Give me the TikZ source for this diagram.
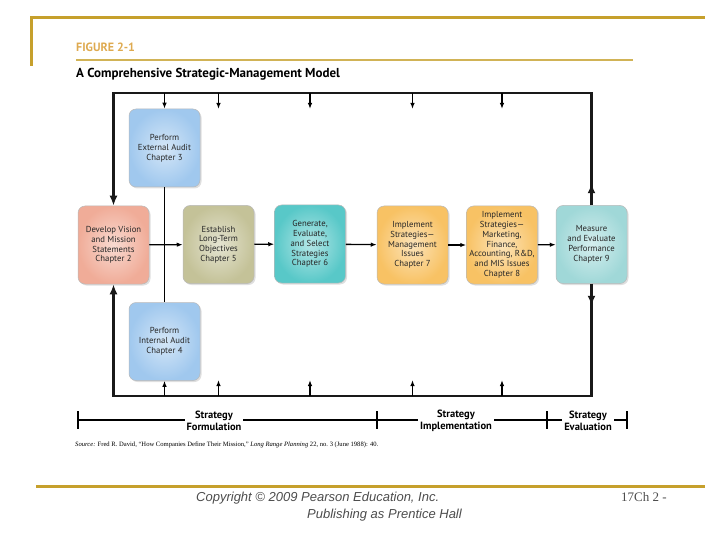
\documentclass[tikz,border=0pt]{standalone}
\usepackage{fontspec}
\setmainfont{Liberation Serif}
\setsansfont{PT Sans}
\newfontfamily\arialfont{Liberation Sans}
\usetikzlibrary{shapes, positioning, arrows.meta, shadows}

\definecolor{gold}{RGB}{198,160,44}
\definecolor{figgold}{RGB}{222,170,80}
\definecolor{auditblue}{RGB}{160,200,238}
\definecolor{visionred}{RGB}{240,172,152}
\definecolor{objkhaki}{RGB}{196,194,152}
\definecolor{stratteal}{RGB}{88,200,200}
\definecolor{implorange}{RGB}{248,194,100}
\definecolor{evalteal}{RGB}{160,216,216}

\tikzset{
  stagebox/.style={rounded corners=7pt, draw=gray!55, line width=0.5pt,
    minimum width=71pt, minimum height=78pt, inner sep=1pt, align=center,
    font=\sffamily\fontsize{8.7}{9.8}\selectfont, text=black!85,
    inner color=#1!45!white, outer color=#1,
    drop shadow={opacity=0.25, shadow xshift=1.5pt, shadow yshift=-1.5pt}},
  loopline/.style={line width=2.6pt, draw=black!90},
  bigtip/.style={-{Latex[length=10pt, width=8pt]}},
  feed/.style={line width=1.3pt, -{Latex[length=6pt, width=4.5pt]}},
  link/.style={line width=1.3pt},
  phase/.style={font=\sffamily\bfseries\fontsize{10.5}{12}\selectfont, align=center, fill=white, inner sep=2pt},
  tline/.style={line width=1.4pt},
}

\begin{document}
\begin{tikzpicture}[x=1pt, y=-1pt]
        \useasboundingbox (0,0) rectangle (720,540);

        % page frame
        \draw[gold, line width=3pt] (30,18) -- (705,18);
        \draw[gold, line width=3pt] (31.5,18) -- (31.5,66);
        \draw[gold, line width=3pt] (36,486) -- (705,486);
        \draw[gold!80, line width=2.5pt] (76,60) -- (633,60);

        \node[anchor=base west, inner sep=0, text=figgold, font=\sffamily\bfseries\fontsize{12}{14}\selectfont] (fig) at (76,52) {FIGURE 2-1};
        \node[anchor=base west, inner sep=0, font=\sffamily\bfseries\fontsize{13}{15}\selectfont] (title) at (76,78) {A Comprehensive Strategic-Management Model};

        % stages
        \node[stagebox=auditblue] (ext) at (164.5,148) {Perform\\External Audit\\Chapter 3};
        \node[stagebox=visionred] (vis) at (113.5,245) {Develop Vision\\and Mission\\Statements\\Chapter 2};
        \node[stagebox=objkhaki] (est) at (218.5,244.5) {Establish\\Long-Term\\Objectives\\Chapter 5};
        \node[stagebox=stratteal] (gen) at (310,244) {Generate,\\Evaluate,\\and Select\\Strategies\\Chapter 6};
        \node[stagebox=implorange] (imp7) at (412.5,245) {Implement\\Strategies---\\Management\\Issues\\Chapter 7};
        \node[stagebox=implorange] (imp8) at (502,245) {Implement\\Strategies---\\Marketing,\\Finance,\\Accounting, R\&D,\\and MIS Issues\\Chapter 8};
        \node[stagebox=evalteal] (mea) at (591.5,244.5) {Measure\\and Evaluate\\Performance\\Chapter 9};
        \node[stagebox=auditblue] (int) at (164.5,341.5) {Perform\\Internal Audit\\Chapter 4};

        \coordinate (tl) at (113.5,93);
        \coordinate (tr) at (591.5,93);
        \coordinate (bl) at (113.5,396);
        \coordinate (br) at (591.5,396);

        % feedback loops
        \draw[loopline, bigtip] (mea.north) -- ++(0,-22);
        \draw[loopline, bigtip] (mea.north) -- (tr) -- (tl) -- (vis.north);
        \draw[loopline, bigtip] (mea.south) -- ++(0,22);
        \draw[loopline, bigtip] (mea.south) -- (br) -- (bl) -- (vis.south);

        \draw[feed] (ext.north |- tl) -- (ext.north);
        \draw[feed] (int.south |- bl) -- (int.south);
        \foreach \s in {est, gen, imp7, imp8} {
            \draw[feed] (\s.north |- tl) -- ++(0,16);
            \draw[feed] (\s.south |- bl) -- ++(0,-16);
        }

        % main flow
        \draw[link] (ext.south) -- (int.north);
        \draw[feed] (vis) -- (est);
        \draw[feed] (est) -- (gen);
        \draw[feed] (gen) -- (imp7);
        \draw[feed] (imp7) -- (imp8);
        \draw[feed] (imp8) -- (mea);

        % phases
        \coordinate (p0) at (78,420);
        \coordinate (p1) at (377,420);
        \coordinate (p2) at (547,420);
        \coordinate (p3) at (627,420);
        \draw[tline] (p0) -- (p3);
        \foreach \p in {p0, p1, p2, p3}
            \draw[tline] (\p) +(0,-9) -- +(0,9);
        \node[phase] (form) at (214,421) {Strategy\\Formulation};
        \node[phase] (impl) at (456,421) {Strategy\\Implementation};
        \node[phase] (eval) at (588,421) {Strategy\\Evaluation};

        \node[anchor=base west, inner sep=0, font=\fontsize{6.6}{8}\selectfont] (src) at (75,446)
            {\textit{Source:} Fred R. David, ``How Companies Define Their Mission,'' \textit{Long Range Planning} 22, no.~3 (June 1988): 40.};

        % footer
        \node[anchor=base west, inner sep=0, text=black!70, font=\arialfont\itshape\fontsize{13}{15}\selectfont] (copy1) at (196,501) {Copyright © 2009 Pearson Education, Inc.};
        \node[anchor=base east, inner sep=0, text=black!70, font=\arialfont\itshape\fontsize{13}{15}\selectfont] (copy2) at (462,518) {Publishing as Prentice Hall};
        \node[anchor=base west, inner sep=0, text=black!70, font=\fontsize{13}{15}\selectfont] (pg) at (621,501) {17Ch 2 -};
\end{tikzpicture}
\end{document}
